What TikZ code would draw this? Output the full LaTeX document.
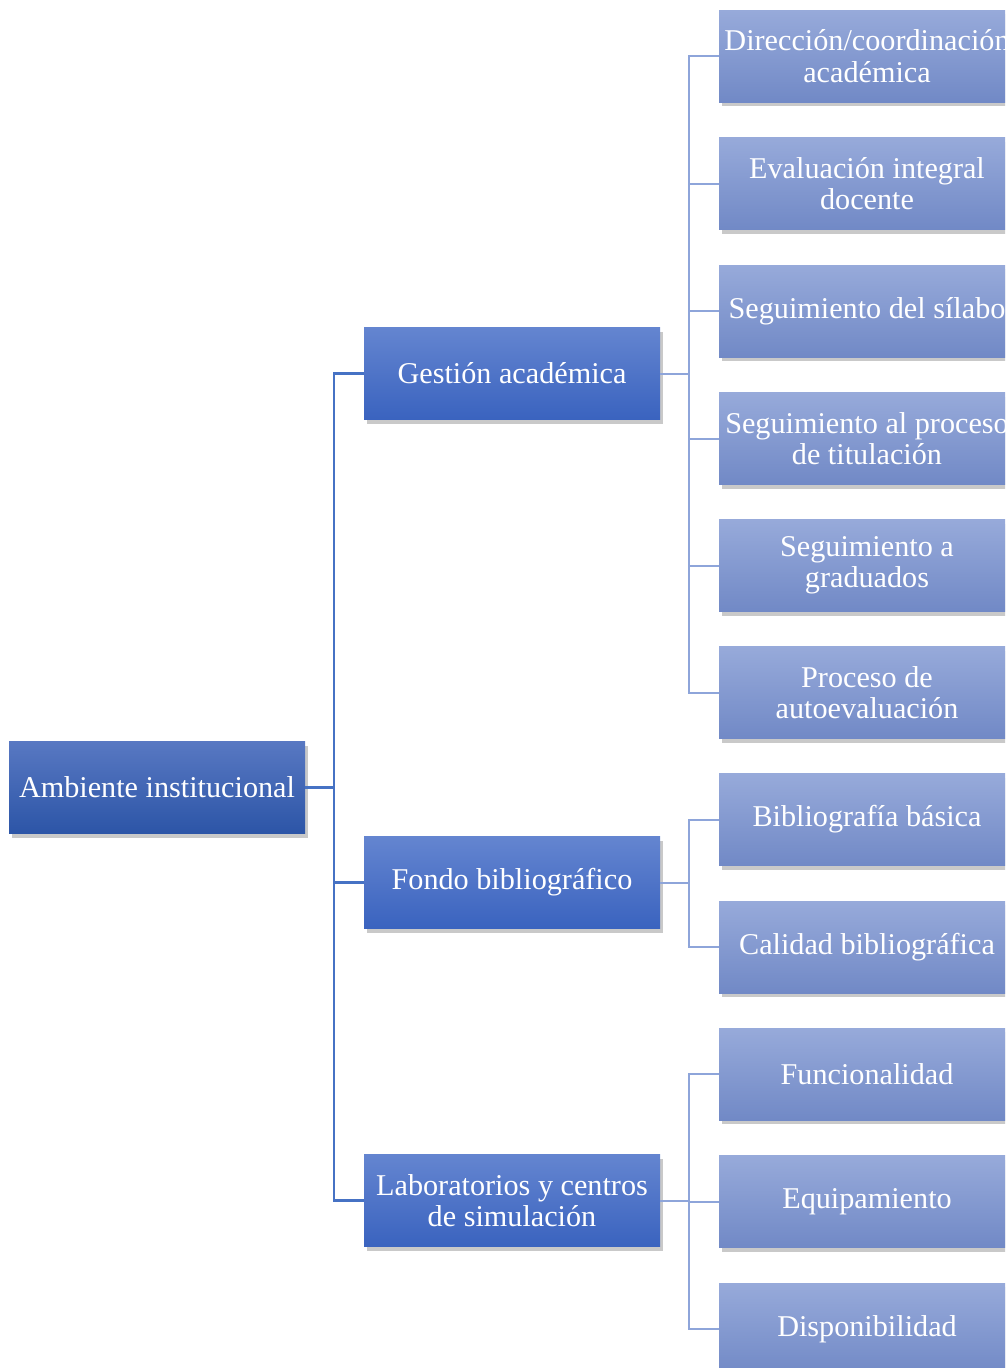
\documentclass[tikz,border=0pt]{standalone}
\usepackage{fontspec}
\setmainfont{Liberation Serif}
\usetikzlibrary{shadows}
\definecolor{roottop}{HTML}{5878C2}
\definecolor{rootbot}{HTML}{2C55A7}
\definecolor{midtop}{HTML}{6485D0}
\definecolor{midbot}{HTML}{3A63BF}
\definecolor{leaftop}{HTML}{97AADA}
\definecolor{leafbot}{HTML}{7189C6}
\definecolor{lineA}{HTML}{4672C4}
\definecolor{lineB}{HTML}{8EA5DA}
\tikzset{
  box/.style={rectangle, minimum width=296pt, minimum height=92pt, inner sep=0pt,
    align=center, text=white, font=\fontsize{30.2}{31.5}\selectfont,
    drop shadow={shadow xshift=3pt, shadow yshift=-4pt, opacity=0.3, fill=black!70}},
  rootbox/.style={box, top color=roottop, bottom color=rootbot},
  midbox/.style={box, top color=midtop, bottom color=midbot},
  leafbox/.style={box, top color=leaftop, bottom color=leafbot},
  connA/.style={draw=lineA, line width=2.2pt},
  connB/.style={draw=lineB, line width=2pt},
}
\begin{document}
\begin{tikzpicture}[x=1pt, y=-1pt]
\useasboundingbox (0,0) rectangle (1005,1368);
\clip (0,0) rectangle (1005,1368);

\node[rootbox] (root) at (157,787.5) {Ambiente institucional};
\node[midbox] (g) at (512,373.5) {Gestión académica};
\node[midbox] (f) at (512,882.5) {Fondo bibliográfico};
\node[midbox] (l) at (512,1200.5) {Laboratorios y centros\\de simulación};

\node[leafbox] (a1) at (867,56) {Dirección/coordinación\\académica};
\node[leafbox] (a2) at (867,183.5) {Evaluación integral\\docente};
\node[leafbox] (a3) at (867,311) {Seguimiento del sílabo};
\node[leafbox] (a4) at (867,438.5) {Seguimiento al proceso\\de titulación};
\node[leafbox] (a5) at (867,565.5) {Seguimiento a\\graduados};
\node[leafbox] (a6) at (867,692.5) {Proceso de\\autoevaluación};
\node[leafbox] (b1) at (867,819.5) {Bibliografía básica};
\node[leafbox] (b2) at (867,947) {Calidad bibliográfica};
\node[leafbox] (c1) at (867,1074) {Funcionalidad};
\node[leafbox] (c2) at (867,1201.5) {Equipamiento};
\node[leafbox] (c3) at (867,1329) {Disponibilidad};

\draw[connA] (root.east) -- ++(29,0) coordinate (j1) |- (g.west);
\draw[connA] (j1) |- (f.west);
\draw[connA] (j1) |- (l.west);
\draw[connB] (g.east) -- ++(29,0) coordinate (j2);
\foreach \n in {a1,a2,a3,a4,a5,a6} \draw[connB] (j2) |- (\n.west);
\draw[connB] (f.east) -- ++(29,0) coordinate (j3);
\foreach \n in {b1,b2} \draw[connB] (j3) |- (\n.west);
\draw[connB] (l.east) -- ++(29,0) coordinate (j4);
\foreach \n in {c1,c2,c3} \draw[connB] (j4) |- (\n.west);
\end{tikzpicture}
\end{document}
